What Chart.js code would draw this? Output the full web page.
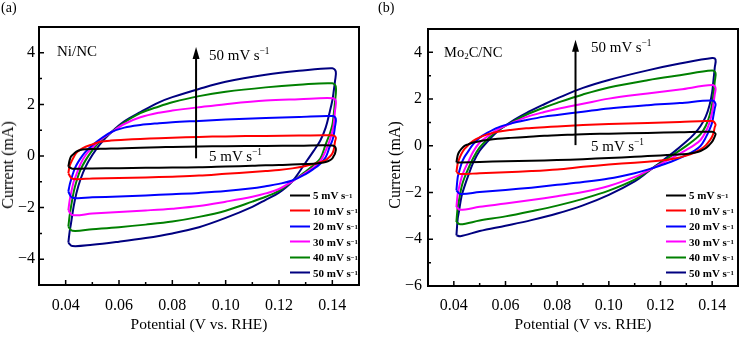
<!DOCTYPE html>
<html lang="en">
<head>
<meta charset="UTF-8">
<title>CV curves at different scan rates</title>
<script src="https://cdn.jsdelivr.net/npm/chart.js"></script>
<style>
  body { margin: 0; background: #fff; color: #000; font-family: 'Liberation Serif', 'Times New Roman', serif; }
  #wrap { position: relative; width: 748px; height: 337px; overflow: hidden; }
  canvas { position: absolute; top: 0; }
  .txt { position: absolute; white-space: nowrap; line-height: 1; transform: translateY(-50%); }
  .ytitle { position: absolute; white-space: nowrap; line-height: 1; font-size: 16px; transform: translate(-50%, -50%) rotate(-90deg); }
  sup { font-size: 0.62em; vertical-align: 0.6em; line-height: 0; }
  sub { font-size: 0.62em; vertical-align: -0.25em; line-height: 0; }
  .row { position: absolute; white-space: nowrap; font-size: 11px; font-weight: bold; line-height: 1; transform: translateY(-50%); display: flex; align-items: center; }
  .row .ln { display: inline-block; width: 20px; height: 2px; margin-right: 3px; }
</style>
</head>
<body>
<div id="wrap">
  <canvas id="chartA" width="374" height="337" style="left:0"></canvas>
  <canvas id="chartB" width="374" height="337" style="left:374px"></canvas>

  <div class="txt" style="left:1px; top:8px; font-size:14px">(a)</div>
  <div class="txt" style="left:378px; top:8px; font-size:14px">(b)</div>
  <div class="ytitle" style="left:8px; top:165px">Current (mA)</div>
  <div class="ytitle" style="left:395px; top:165px">Current (mA)</div>

  <div class="txt" style="left:57px; top:51px; font-size:15px">Ni/NC</div>
  <div class="txt" style="left:444px; top:52px; font-size:14.5px">Mo<sub>2</sub>C/NC</div>

  <div class="txt" style="left:209px; top:55px; font-size:15px">50 mV s<sup>−1</sup></div>
  <div class="txt" style="left:209px; top:156px; font-size:15px">5 mV s<sup>−1</sup></div>
  <div class="txt" style="left:591px; top:47px; font-size:15px">50 mV s<sup>−1</sup></div>
  <div class="txt" style="left:591px; top:146px; font-size:15px">5 mV s<sup>−1</sup></div>

  <div id="legendA"></div>
  <div id="legendB"></div>
</div>

<script>
// potential (V vs. RHE): anodic sweep, then cathodic sweep back
const fwdPotential = [0.041, 0.0415, 0.042, 0.043, 0.044, 0.0455, 0.0475, 0.05, 0.053, 0.057,
                      0.062, 0.068, 0.075, 0.08, 0.09, 0.10, 0.115, 0.1275, 0.14, 0.1413];
const revPotential = [0.141, 0.1405, 0.14, 0.139, 0.1375, 0.1355, 0.133, 0.13, 0.125, 0.12,
                      0.115, 0.11, 0.10, 0.09, 0.08, 0.07, 0.06, 0.05, 0.0425];

const rateLabels = ['5', '10', '20', '30', '40', '50'];
const rateColors = ['#000000', '#ff0000', '#0000ff', '#ff00ff', '#008000', '#000080'];

// current (mA), Ni/NC  (first 20 = forward, last 19 = reverse)
const ni5 = [-0.41, -0.16, -0.02, 0.08, 0.17, 0.23, 0.26, 0.27, 0.28, 0.29, 0.30, 0.32, 0.34, 0.35, 0.37, 0.38, 0.39, 0.40, 0.41, 0.30,
             0.10, 0.0, -0.09, -0.17, -0.23, -0.27, -0.30, -0.31, -0.33, -0.35, -0.36, -0.38, -0.41, -0.44, -0.45, -0.46, -0.47, -0.48, -0.49];
const ni10 = [-0.67, -0.38, -0.25, -0.05, 0.12, 0.25, 0.36, 0.45, 0.55, 0.60, 0.63, 0.66, 0.69, 0.71, 0.74, 0.76, 0.78, 0.79, 0.80, 0.72,
              0.56, 0.23, 0.10, -0.03, -0.16, -0.24, -0.31, -0.39, -0.48, -0.54, -0.58, -0.62, -0.69, -0.76, -0.80, -0.83, -0.85, -0.87, -0.88];
const ni20 = [-1.38, -1.12, -0.93, -0.60, -0.36, -0.10, 0.17, 0.42, 0.66, 0.92, 1.10, 1.20, 1.27, 1.31, 1.36, 1.41, 1.47, 1.51, 1.55, 1.44,
              1.14, 0.80, 0.60, 0.35, -0.05, -0.30, -0.50, -0.70, -0.95, -1.08, -1.17, -1.25, -1.36, -1.43, -1.48, -1.53, -1.57, -1.60, -1.62];
const ni30 = [-2.10, -1.72, -1.45, -1.00, -0.72, -0.33, 0.04, 0.33, 0.62, 0.91, 1.24, 1.50, 1.68, 1.76, 1.89, 2.01, 2.15, 2.20, 2.24, 2.14,
              1.75, 1.20, 0.95, 0.60, 0.20, -0.20, -0.45, -0.65, -0.98, -1.28, -1.45, -1.58, -1.77, -1.94, -2.04, -2.11, -2.17, -2.23, -2.29];
const ni40 = [-2.74, -2.30, -1.97, -1.40, -1.00, -0.55, -0.16, 0.22, 0.58, 0.91, 1.30, 1.66, 1.92, 2.08, 2.32, 2.49, 2.66, 2.76, 2.82, 2.69,
              2.10, 1.60, 1.20, 0.85, 0.45, -0.10, -0.35, -0.60, -0.98, -1.35, -1.58, -1.77, -2.12, -2.36, -2.54, -2.66, -2.76, -2.84, -2.90];
const ni50 = [-3.36, -2.92, -2.61, -1.95, -1.45, -0.92, -0.41, 0.04, 0.47, 0.91, 1.34, 1.70, 2.08, 2.28, 2.60, 2.88, 3.15, 3.30, 3.40, 3.27,
              2.90, 2.50, 2.15, 1.70, 1.10, 0.60, 0.20, -0.25, -0.98, -1.42, -1.70, -1.97, -2.40, -2.76, -3.00, -3.18, -3.32, -3.44, -3.49];

// current (mA), Mo2C/NC
const mo5 = [-0.71, -0.40, -0.27, -0.12, -0.01, 0.06, 0.14, 0.20, 0.25, 0.30, 0.34, 0.38, 0.43, 0.45, 0.50, 0.52, 0.55, 0.58, 0.60, 0.52,
             0.40, 0.28, 0.18, 0.05, -0.10, -0.22, -0.30, -0.35, -0.38, -0.41, -0.44, -0.47, -0.52, -0.57, -0.61, -0.64, -0.66, -0.69, -0.71];
const mo10 = [-1.13, -0.75, -0.58, -0.33, -0.15, 0.02, 0.21, 0.36, 0.49, 0.60, 0.68, 0.75, 0.80, 0.83, 0.89, 0.93, 0.98, 1.02, 1.06, 0.92,
              0.80, 0.55, 0.40, 0.22, 0.02, -0.15, -0.30, -0.42, -0.55, -0.63, -0.68, -0.72, -0.80, -0.90, -1.01, -1.08, -1.13, -1.17, -1.21];
const mo20 = [-1.91, -1.35, -1.13, -0.75, -0.50, -0.25, 0.07, 0.35, 0.56, 0.78, 0.95, 1.10, 1.25, 1.32, 1.46, 1.60, 1.74, 1.83, 1.94, 1.80,
              1.60, 1.30, 1.00, 0.70, 0.35, 0.00, -0.22, -0.40, -0.64, -0.84, -1.02, -1.17, -1.40, -1.55, -1.67, -1.79, -1.89, -1.98, -2.06];
const mo30 = [-2.62, -2.06, -1.80, -1.35, -1.05, -0.70, -0.25, 0.14, 0.40, 0.70, 0.95, 1.23, 1.45, 1.58, 1.80, 2.02, 2.24, 2.41, 2.60, 2.48,
              2.20, 1.80, 1.45, 1.00, 0.60, 0.25, 0.03, -0.17, -0.48, -0.78, -1.07, -1.33, -1.72, -1.98, -2.16, -2.32, -2.47, -2.61, -2.74];
const mo40 = [-3.26, -2.62, -2.33, -1.75, -1.40, -1.00, -0.52, -0.07, 0.28, 0.66, 0.98, 1.33, 1.64, 1.84, 2.20, 2.50, 2.81, 3.02, 3.22, 3.12,
              2.75, 2.25, 1.80, 1.30, 0.85, 0.50, 0.25, 0.00, -0.38, -0.74, -1.09, -1.45, -1.92, -2.27, -2.56, -2.80, -3.02, -3.20, -3.36];
const mo50 = [-3.83, -3.12, -2.80, -2.15, -1.78, -1.30, -0.72, -0.21, 0.18, 0.62, 1.02, 1.40, 1.78, 2.03, 2.48, 2.82, 3.23, 3.52, 3.76, 3.69,
              3.35, 2.80, 2.30, 1.75, 1.25, 0.85, 0.50, 0.18, -0.28, -0.70, -1.12, -1.52, -2.10, -2.55, -2.90, -3.18, -3.42, -3.65, -3.87];

const loopPotential = fwdPotential.concat(revPotential);
const fontSerif = "'Liberation Serif', 'Times New Roman', serif";

function loop(currents) {
    const pts = loopPotential.map((v, k) => ({ x: v, y: currents[k] }));
    pts.push(pts[0]); // close the cycle
    return pts;
}

// inward ticks (long for labelled, short for the rest), frame and the scan-rate arrow
const framePlugin = {
    id: 'cvFrame',
    afterDatasetsDraw(chart, args, opts) {
        const { ctx, chartArea: a, scales: { x, y } } = chart;
        ctx.save();
        ctx.strokeStyle = '#000';
        ctx.lineWidth = 1.5;
        ctx.beginPath();
        x.ticks.forEach(t => {
            const px = x.getPixelForValue(t.value);
            const len = t.label ? 5 : 3;
            ctx.moveTo(px, a.bottom);
            ctx.lineTo(px, a.bottom - len);
        });
        y.ticks.forEach(t => {
            const py = y.getPixelForValue(t.value);
            const len = t.label ? 5 : 3;
            ctx.moveTo(a.left, py);
            ctx.lineTo(a.left + len, py);
        });
        ctx.stroke();

        ctx.lineWidth = 2;
        ctx.strokeRect(a.left, a.top, a.right - a.left, a.bottom - a.top);

        const ar = opts.arrow;
        const ax = x.getPixelForValue(ar.x);
        const y0 = y.getPixelForValue(ar.from);
        const y1 = y.getPixelForValue(ar.to);
        ctx.lineWidth = 2;
        ctx.beginPath();
        ctx.moveTo(ax, y0);
        ctx.lineTo(ax, y1 + 10);
        ctx.stroke();
        ctx.fillStyle = '#000';
        ctx.beginPath();
        ctx.moveTo(ax, y1);
        ctx.lineTo(ax - 3.5, y1 + 12);
        ctx.lineTo(ax + 3.5, y1 + 12);
        ctx.closePath();
        ctx.fill();
        ctx.restore();
    }
};

function makeChart(id, series, box) {
    const font = { family: fontSerif, size: 16 };
    return new Chart(document.getElementById(id), {
        type: 'scatter',
        data: {
            datasets: series.map((vals, k) => ({
                label: rateLabels[k] + ' mV s-1',
                data: loop(vals),
                showLine: true,
                borderColor: rateColors[k],
                backgroundColor: rateColors[k],
                borderWidth: 2,
                pointRadius: 0,
                tension: 0.35
            }))
        },
        options: {
            responsive: false,
            animation: false,
            events: [],
            layout: { padding: { top: box.top, right: box.right, bottom: 0, left: 0 } },
            plugins: {
                legend: { display: false },
                tooltip: { enabled: false },
                cvFrame: { arrow: box.arrow }
            },
            scales: {
                x: {
                    type: 'linear',
                    min: 0.03,
                    max: 0.15,
                    afterFit: s => { s.height = box.xh; },
                    grid: { display: false, drawTicks: false },
                    border: { display: false },
                    ticks: {
                        stepSize: 0.01,
                        maxTicksLimit: 100,
                        autoSkip: false,
                        maxRotation: 0,
                        padding: box.xpad,
                        color: '#000',
                        font,
                        callback: v => {
                            const n = Math.round(v * 100);
                            return (n % 2 === 0 && n >= 4 && n <= 14) ? v.toFixed(2) : '';
                        }
                    },
                    title: {
                        display: true,
                        text: 'Potential (V vs. RHE)',
                        color: '#000',
                        font: { family: fontSerif, size: 15.5, lineHeight: 1 },
                        padding: { top: 0, bottom: 4 }
                    }
                },
                y: {
                    type: 'linear',
                    min: box.ymin,
                    max: 5,
                    afterFit: s => { s.width = box.yw; },
                    grid: { display: false, drawTicks: false },
                    border: { display: false },
                    ticks: {
                        stepSize: 1,
                        maxTicksLimit: 100,
                        autoSkip: false,
                        padding: box.ypad,
                        color: '#000',
                        font,
                        callback: v => (v % 2 === 0 ? String(v).replace('-', '\u2212') : '')
                    }
                }
            }
        },
        plugins: [framePlugin]
    });
}

makeChart('chartA', [ni5, ni10, ni20, ni30, ni40, ni50], {
    top: 27, right: 15, xh: 52, yw: 39, ymin: -5, xpad: 11, ypad: 4,
    arrow: { x: 0.0889, from: -0.09, to: 4.22 }
});
makeChart('chartB', [mo5, mo10, mo20, mo30, mo40, mo50], {
    top: 29, right: 1, xh: 51, yw: 54, ymin: -6, xpad: 10, ypad: 6,
    arrow: { x: 0.0871, from: 0.03, to: 4.54 }
});

// legends in the lower right corner of each panel
function buildLegend(id, left, top) {
    const box = document.getElementById(id);
    rateLabels.forEach((r, k) => {
        const row = document.createElement('div');
        row.className = 'row';
        row.style.left = left + 'px';
        row.style.top = (top + k * 15.5) + 'px';
        row.innerHTML = '<span class="ln" style="background:' + rateColors[k] + '"></span>' +
            r + ' mV s<sup>\u22121</sup>';
        box.appendChild(row);
    });
}
buildLegend('legendA', 290, 195);
buildLegend('legendB', 666, 195);
</script>
</body>
</html>
